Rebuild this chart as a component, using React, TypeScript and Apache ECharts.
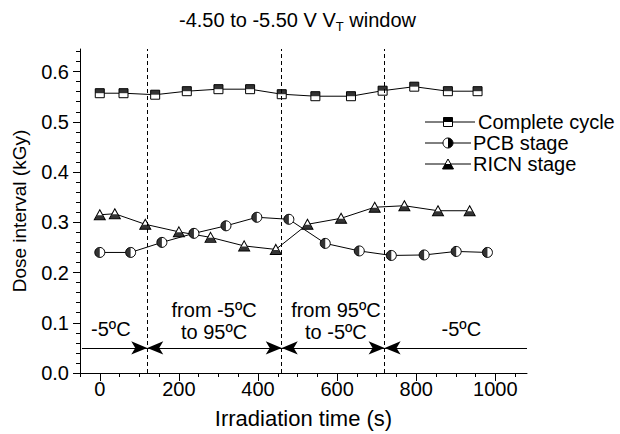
import React, { useEffect, useRef } from "react";
import * as echarts from "echarts";

// ---- data ----
const completeTime = [0, 60, 140, 220, 300, 380, 460, 545, 635, 715, 795, 880, 955];
const completeDose = [0.557, 0.557, 0.554, 0.561, 0.565, 0.565, 0.555, 0.551, 0.551, 0.562, 0.57, 0.561, 0.561];
const pcbTime = [0, 78, 157, 238, 319, 397, 478, 570, 656, 737, 820, 901, 980];
const pcbDose = [0.24, 0.24, 0.26, 0.278, 0.293, 0.31, 0.306, 0.258, 0.243, 0.234, 0.235, 0.242, 0.24];
const ricnTime = [0, 38, 115, 200, 280, 365, 445, 525, 610, 695, 770, 855, 935];
const ricnDose = [0.315, 0.317, 0.296, 0.281, 0.27, 0.253, 0.246, 0.296, 0.308, 0.33, 0.333, 0.323, 0.323];

const stageBounds = [120, 460, 720];
const arrowLevel = 0.05;
const arrowStart = -45;
const arrowEnd = 1080;
const stageLabels = ["-5ºC", "from -5ºC\nto 95ºC", "from 95ºC\nto -5ºC", "-5ºC"];
const stageLabelX = [28, 289, 597, 914];
const stageLabelY = [0.088, 0.104, 0.104, 0.087];

const xMajor = [0, 200, 400, 600, 800, 1000];
const xMinor = [-50, 50, 100, 150, 250, 300, 350, 450, 500, 550, 650, 700, 750, 850, 900, 950, 1050];
const yMajor = [0, 0.1, 0.2, 0.3, 0.4, 0.5, 0.6];
const yMinor = [0.02, 0.04, 0.06, 0.08, 0.12, 0.14, 0.16, 0.18, 0.22, 0.24, 0.26, 0.28, 0.32, 0.34, 0.36, 0.38, 0.42, 0.44, 0.46, 0.48, 0.52, 0.54, 0.56, 0.58, 0.62, 0.64];

const FONT = "'Liberation Sans', Arial, sans-serif";
const FS = 20;

const zip = (a: number[], b: number[]) => a.map((v, i) => [v, b[i]]);

export default function App() {
  const ref = useRef<HTMLDivElement>(null);
  useEffect(() => {
    if (!ref.current) return;
    const chart = echarts.init(ref.current, null, { renderer: "svg" });
    const black = "#000";
    const baseItem = { color: "#fff", borderColor: black, borderWidth: 1 };
    const lineStyle = { color: black, width: 1 };

    const arrowLines: any[] = [
      [
        { coord: [arrowStart, arrowLevel], symbol: "none" },
        { coord: [stageBounds[0], arrowLevel], symbol: "arrow" },
      ],
      [
        { coord: [stageBounds[0], arrowLevel], symbol: "arrow" },
        { coord: [stageBounds[1], arrowLevel], symbol: "arrow" },
      ],
      [
        { coord: [stageBounds[1], arrowLevel], symbol: "arrow" },
        { coord: [stageBounds[2], arrowLevel], symbol: "arrow" },
      ],
      [
        { coord: [arrowEnd, arrowLevel], symbol: "none" },
        { coord: [stageBounds[2], arrowLevel], symbol: "arrow" },
      ],
    ];

    const option: any = {
      animation: false,
      backgroundColor: "#fff",
      textStyle: { fontFamily: FONT },
      title: {
        text: "{a|-4.50 to -5.50 V V}{s|T}{a| window}",
        left: 174,
        top: 1,
        textStyle: {
          fontWeight: "normal",
          rich: {
            a: { fontSize: 20, fontFamily: FONT, color: black, fontWeight: "normal" },
            s: { fontSize: 13, fontFamily: FONT, color: black, fontWeight: "normal", padding: [14, 0, 0, 0] },
          },
        },
      },
      grid: { left: 80, right: 93, top: 49, bottom: 61, containLabel: false },
      xAxis: [
        {
          type: "value",
          min: -50,
          max: 1080,
          position: "bottom",
          name: "Irradiation time (s)",
          nameLocation: "middle",
          nameGap: 34,
          nameTextStyle: { fontSize: 22, color: black, fontFamily: FONT },
          axisLine: { show: true, onZero: false, lineStyle: { color: black, width: 1 } },
          axisTick: { show: true, length: 8, customValues: xMajor, lineStyle: { color: black } },
          axisLabel: {
            customValues: xMajor,
            fontSize: FS,
            color: black,
            fontFamily: FONT,
            margin: 6,
            formatter: (v: number) => String(v),
          },
          splitLine: { show: false },
        },
        {
          type: "value",
          min: -50,
          max: 1080,
          position: "bottom",
          axisLine: { show: false, onZero: false },
          axisTick: { show: true, length: 4, customValues: xMinor, lineStyle: { color: black } },
          axisLabel: { show: false },
          splitLine: { show: false },
        },
      ],
      yAxis: [
        {
          type: "value",
          min: 0,
          max: 0.645,
          position: "left",
          name: "Dose interval (kGy)",
          nameLocation: "middle",
          nameGap: 51,
          nameTextStyle: { fontSize: 19, color: black, fontFamily: FONT },
          axisLine: { show: true, onZero: false, lineStyle: { color: black, width: 1 } },
          axisTick: { show: true, length: 7, customValues: yMajor, lineStyle: { color: black } },
          axisLabel: {
            customValues: yMajor,
            fontSize: FS,
            color: black,
            fontFamily: FONT,
            margin: 11,
            formatter: (v: number) => v.toFixed(1),
          },
          splitLine: { show: false },
        },
        {
          type: "value",
          min: 0,
          max: 0.645,
          position: "left",
          axisLine: { show: false, onZero: false },
          axisTick: { show: true, length: 4, customValues: yMinor, lineStyle: { color: black } },
          axisLabel: { show: false },
          splitLine: { show: false },
        },
      ],
      series: [
        {
          name: "annotations",
          type: "line",
          data: [],
          silent: true,
          markLine: {
            silent: true,
            animation: false,
            symbol: "none",
            label: { show: false },
            lineStyle: { color: black, width: 1, type: [4, 3] },
            data: stageBounds.map((b) => [
              { coord: [b, 0] },
              { coord: [b, 0.645] },
            ]),
          },
        },
        {
          name: "arrows",
          type: "line",
          data: [],
          silent: true,
          markLine: {
            silent: true,
            animation: false,
            symbolSize: [10, 16],
            label: { show: false },
            lineStyle: { color: black, width: 1, type: "solid" },
            data: arrowLines,
          },
          markPoint: {
            silent: true,
            animation: false,
            symbol: "rect",
            symbolSize: 1,
            itemStyle: { color: "transparent" },
            label: {
              show: true,
              position: "inside",
              formatter: (p: any) => p.name,
              color: black,
              fontSize: FS,
              lineHeight: 22,
              fontFamily: FONT,
              align: "center",
            },
            data: stageLabels.map((t, i) => ({ name: t, coord: [stageLabelX[i], stageLabelY[i]] })),
          },
        },
        {
          name: "Complete cycle",
          type: "line",
          data: zip(completeTime, completeDose),
          symbol: "rect",
          symbolSize: 9,
          itemStyle: baseItem,
          lineStyle,
          z: 3,
        },
        {
          type: "scatter",
          data: zip(completeTime, completeDose),
          symbol: "rect",
          symbolSize: [9, 4.5],
          symbolOffset: [0, -2.25],
          itemStyle: { color: black },
          silent: true,
          z: 4,
        },
        {
          name: "PCB stage",
          type: "line",
          data: zip(pcbTime, pcbDose),
          symbol: "circle",
          symbolSize: 10,
          itemStyle: baseItem,
          lineStyle,
          z: 3,
        },
        {
          type: "scatter",
          data: zip(pcbTime, pcbDose),
          symbol: "path://M5,0 A5,5 0 0 0 5,10 Z",
          symbolSize: [5, 10],
          symbolOffset: [-2.5, 0],
          itemStyle: { color: black },
          silent: true,
          z: 4,
        },
        {
          name: "RICN stage",
          type: "line",
          data: zip(ricnTime, ricnDose),
          symbol: "triangle",
          symbolSize: [11, 10],
          itemStyle: baseItem,
          lineStyle,
          z: 3,
        },
        {
          type: "scatter",
          data: zip(ricnTime, ricnDose),
          symbol: "path://M3.025,0 L7.975,0 L11,5.5 L0,5.5 Z",
          symbolSize: [11, 4.5],
          symbolOffset: [0, 2.75],
          itemStyle: { color: black },
          silent: true,
          z: 4,
        },
      ],
      graphic: [
        // legend row 1: Complete cycle
        { type: "line", shape: { x1: 425, y1: 122, x2: 475, y2: 122 }, style: { stroke: black, lineWidth: 1 } },
        { type: "rect", shape: { x: 443.5, y: 117.5, width: 9, height: 9 }, style: { fill: "#fff", stroke: black, lineWidth: 1 } },
        { type: "rect", shape: { x: 443.5, y: 117.5, width: 9, height: 4.5 }, style: { fill: black } },
        { type: "text", x: 478, y: 122, style: { text: "Complete cycle", fontSize: FS, fontFamily: FONT, fill: black, verticalAlign: "middle" } },
        // legend row 2: PCB stage
        { type: "line", shape: { x1: 425, y1: 143, x2: 471, y2: 143 }, style: { stroke: black, lineWidth: 1 } },
        { type: "circle", shape: { cx: 448, cy: 143, r: 5 }, style: { fill: "#fff", stroke: black, lineWidth: 1 } },
        { type: "sector", shape: { cx: 448, cy: 143, r0: 0, r: 5, startAngle: -Math.PI / 2, endAngle: Math.PI / 2, clockwise: true }, style: { fill: black } },
        { type: "text", x: 473, y: 143, style: { text: "PCB stage", fontSize: FS, fontFamily: FONT, fill: black, verticalAlign: "middle" } },
        // legend row 3: RICN stage
        { type: "line", shape: { x1: 425, y1: 164, x2: 471, y2: 164 }, style: { stroke: black, lineWidth: 1 } },
        { type: "polygon", shape: { points: [[448, 159], [442.5, 169], [453.5, 169]] }, style: { fill: "#fff", stroke: black, lineWidth: 1 } },
        { type: "polygon", shape: { points: [[445.25, 164], [450.75, 164], [453.5, 169], [442.5, 169]] }, style: { fill: black } },
        { type: "text", x: 473, y: 164, style: { text: "RICN stage", fontSize: FS, fontFamily: FONT, fill: black, verticalAlign: "middle" } },
      ],
    };
    chart.setOption(option);
    return () => chart.dispose();
  }, []);
  return (
    <div
      ref={ref}
      style={{ position: "fixed", left: 0, top: 0, width: 620, height: 434, background: "#fff" }}
    />
  );
}
